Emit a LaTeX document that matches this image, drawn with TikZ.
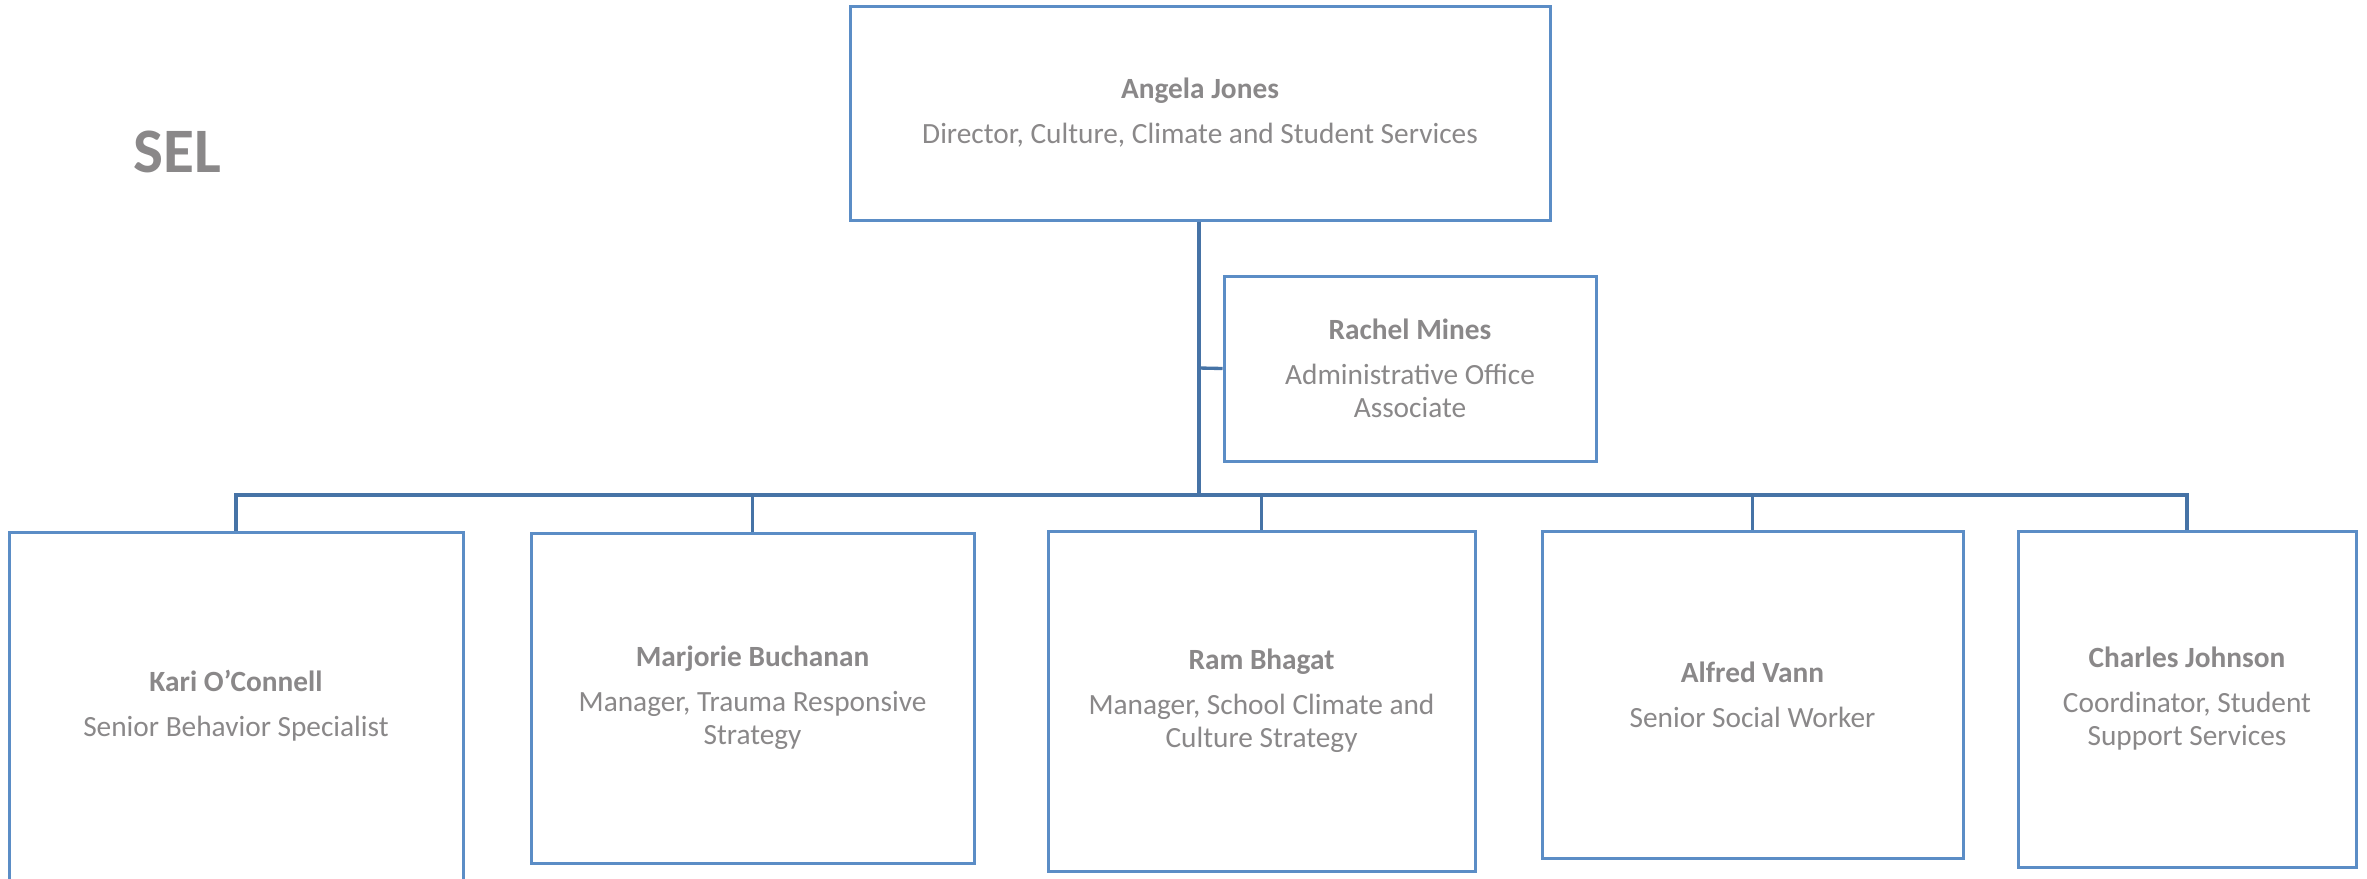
\documentclass[tikz,border=0pt]{standalone}
\usepackage{fontspec}
\setmainfont{Carlito}
\definecolor{txtgray}{HTML}{8A8889}
\definecolor{boxblue}{HTML}{5B8DC6}
\definecolor{linkblue}{HTML}{4673A6}
\tikzset{
  card/.style={draw=boxblue, line width=0.9pt, fill=white, inner sep=0pt, align=center,
    text=txtgray, font=\fontsize{8.8}{9.9}\selectfont},
  link/.style={draw=linkblue, line width=1pt}
}
\newcommand{\nm}[1]{\textbf{#1}\\[3.6pt]}
\begin{document}
\begin{tikzpicture}[x=0.3pt,y=-0.3pt]
\useasboundingbox (0,0) rectangle (2367,878);
\node[text=txtgray, font=\fontsize{19}{22}\selectfont\bfseries] (sel) at (177,152) {SEL};
% boxes
\node[card, minimum width=700*0.3pt, minimum height=214*0.3pt] (top) at (1200,113)
  {\nm{Angela Jones}Director, Culture, Climate and Student Services};
\node[card, minimum width=372*0.3pt, minimum height=185*0.3pt] (rach) at (1410,368.5)
  {\nm{Rachel Mines}Administrative Office\\Associate};
\node[card, minimum width=454*0.3pt, minimum height=348*0.3pt] (kari) at (236,706)
  {\nm{Kari O’Connell}Senior Behavior Specialist};
\node[card, minimum width=443*0.3pt, minimum height=330*0.3pt] (marj) at (752.5,698)
  {\nm{Marjorie Buchanan}Manager, Trauma Responsive\\Strategy};
\node[card, minimum width=427*0.3pt, minimum height=340*0.3pt] (ram) at (1261.5,701)
  {\nm{Ram Bhagat}Manager, School Climate and\\Culture Strategy};
\node[card, minimum width=421*0.3pt, minimum height=327*0.3pt] (alf) at (1752.5,694.5)
  {\nm{Alfred Vann}Senior Social Worker};
\node[card, minimum width=338*0.3pt, minimum height=336*0.3pt] (charl) at (2187,699)
  {\nm{Charles Johnson}Coordinator, Student\\Support Services};
% connectors
\coordinate (bus) at (1199,495);
\coordinate (tap) at (1199,368);
\draw[link] (top.south -| bus) -- (bus);
\draw[link] (tap) -- (rach.west);
\draw[link] (kari.north) |- (bus) -| (charl.north);
\draw[link] (marj.north) -- (marj.north |- bus);
\draw[link] (ram.north) -- (ram.north |- bus);
\draw[link] (alf.north) -- (alf.north |- bus);
\end{tikzpicture}
\end{document}
